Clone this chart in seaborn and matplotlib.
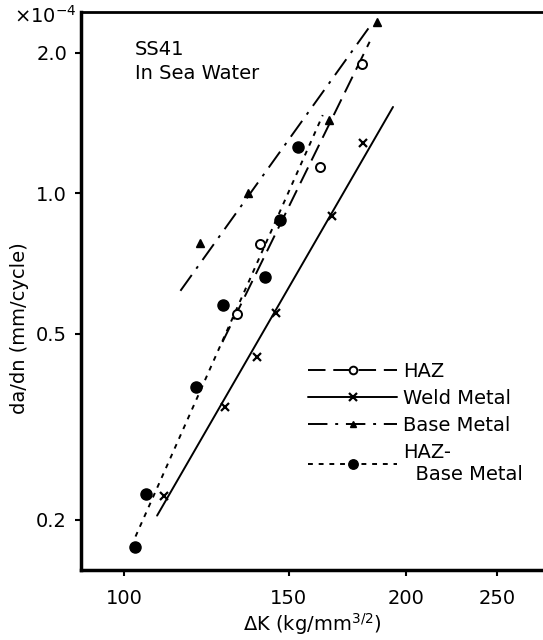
import numpy as np
import pandas as pd
import matplotlib
matplotlib.use("Agg")
import matplotlib.pyplot as plt
from matplotlib.lines import Line2D
from matplotlib.ticker import FixedLocator, FixedFormatter, NullLocator
import seaborn as sns

# measured points (da/dn in 1e-4 mm/cycle, dK in kg/mm^3/2)
haz_dk = [131.9, 139.7, 161.9, 179.7]
haz_rate = [0.551, 0.779, 1.14, 1.89]
weld_dk = [110.3, 128.1, 138.8, 145.3, 166.6, 180.0]
weld_rate = [0.225, 0.348, 0.446, 0.553, 0.895, 1.28]
base_dk = [120.5, 135.8, 165.5, 186.1]
base_rate = [0.784, 1.0, 1.436, 2.33]
hazbm_dk = [102.7, 105.7, 119.3, 127.7, 141.3, 146.7, 153.5]
hazbm_rate = [0.175, 0.227, 0.385, 0.576, 0.66, 0.877, 1.258]

# fitted lines (end points)
haz_fit_dk = [127.4, 182.9]
haz_fit_rate = [0.480, 2.11]
weld_fit_dk = [108.5, 193.7]
weld_fit_rate = [0.204, 1.53]
base_fit_dk = [114.9, 182.4]
base_fit_rate = [0.618, 2.256]
hazbm_fit_dk = [102.9, 163.0]
hazbm_fit_rate = [0.184, 1.47]

x_ticks = [100, 150, 200, 250]
y_ticks = [0.2, 0.5, 1.0, 2.0]
y_tick_labels = ["0.2", "0.5", "1.0", "2.0"]

sns.set_style("ticks")
plt.rcParams["font.family"] = ["DejaVu Sans"]
plt.rcParams["font.size"] = 14
for key in ["text.color", "axes.edgecolor", "axes.labelcolor",
            "xtick.color", "ytick.color"]:
    plt.rcParams[key] = "black"

fig = plt.figure(figsize=(5.43, 6.40), dpi=100)
ax = fig.add_axes([81 / 543, 1 - 570 / 640, 1 - 81 / 543, (570 - 12.3) / 640])

styles = {
    "HAZ": dict(ls=(0, (9, 4)), marker="o", mfc="white", ms=6.5, mew=1.4),
    "Weld Metal": dict(ls="-", marker="x", mfc="black", ms=6, mew=1.6),
    "Base Metal": dict(ls=(0, (10, 4, 1.5, 4)), marker="^", mfc="black", ms=5.5, mew=1),
    "HAZ-\n  Base Metal": dict(ls=(0, (2.5, 3)), marker="o", mfc="black", ms=8, mew=1),
}

series = [
    ("HAZ", haz_dk, haz_rate, haz_fit_dk, haz_fit_rate),
    ("Weld Metal", weld_dk, weld_rate, weld_fit_dk, weld_fit_rate),
    ("Base Metal", base_dk, base_rate, base_fit_dk, base_fit_rate),
    ("HAZ-\n  Base Metal", hazbm_dk, hazbm_rate, hazbm_fit_dk, hazbm_fit_rate),
]

handles = []
for name, dk, rate, fdk, frate in series:
    st = styles[name]
    sns.lineplot(x=fdk, y=frate, ax=ax, color="black", lw=1.4,
                 linestyle=st["ls"], sort=False, legend=False)
    ax.plot(dk, rate, linestyle="none", marker=st["marker"], color="black",
            mfc=st["mfc"], mec="black", ms=st["ms"], mew=st["mew"], zorder=3)
    handles.append(Line2D([], [], color="black", lw=1.4, linestyle=st["ls"],
                          marker=st["marker"], mfc=st["mfc"], mec="black",
                          ms=st["ms"] * 0.85, mew=st["mew"]))

ax.set_xscale("log")
ax.set_yscale("log")
ax.set_xlim(90, 280)
ax.set_ylim(0.156, 2.44)

ax.xaxis.set_major_locator(FixedLocator(x_ticks))
ax.xaxis.set_major_formatter(FixedFormatter([str(t) for t in x_ticks]))
ax.xaxis.set_minor_locator(NullLocator())
ax.yaxis.set_major_locator(FixedLocator(y_ticks))
ax.yaxis.set_major_formatter(FixedFormatter(y_tick_labels))
ax.yaxis.set_minor_locator(NullLocator())
ax.tick_params(direction="out", length=4, width=1.5, labelsize=14, pad=6)
ax.tick_params(axis="x", pad=10)

ax.spines["right"].set_visible(False)
ax.spines["left"].set_linewidth(2.5)
ax.spines["bottom"].set_linewidth(2.5)
ax.spines["top"].set_linewidth(2.0)

ax.set_xlabel("")
ax.set_ylabel("")
fig.text(312 / 543, 1 - 624 / 640, "ΔK (kg/mm$^{3/2}$)", ha="center",
         va="center", fontsize=14)
fig.text(20 / 543, 1 - 328 / 640, "da/dn (mm/cycle)", rotation=90,
         ha="center", va="center", fontsize=14)
fig.text(77 / 543, 1 - 16 / 640, "×10$^{-4}$", ha="right", va="center", fontsize=14)

ax.text(0.117, 0.95, "SS41\nIn Sea Water", transform=ax.transAxes,
        ha="left", va="top", fontsize=14, linespacing=1.3)

ax.legend(handles=handles, labels=[s[0] for s in series], loc="upper left",
          bbox_to_anchor=(0.47, 0.39), frameon=False, handlelength=4.6,
          handletextpad=0.3, labelspacing=0.4, borderpad=0, fontsize=14)

fig.savefig("out.png", dpi=100)
